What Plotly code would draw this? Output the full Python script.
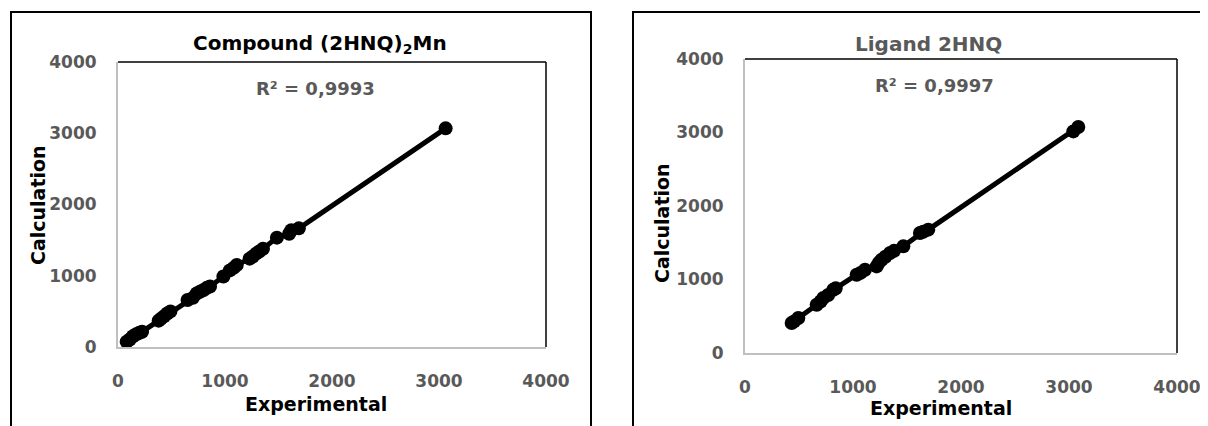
import plotly.graph_objects as go

W, H = 1208, 426
OFF = 8  # page body margin offset compensation

# ---------------- data ----------------
compound_exp = [81, 110, 140, 170, 200, 225, 380, 400, 430, 460, 490,
                650, 700, 735, 770, 800, 830, 860, 985, 1045, 1080, 1110,
                1230, 1260, 1290, 1320, 1355, 1485, 1600, 1620, 1690, 3062]
compound_calc = [74, 105, 150, 180, 200, 215, 370, 395, 430, 470, 500,
                 660, 690, 750, 780, 800, 830, 850, 990, 1075, 1110, 1150,
                 1240, 1270, 1310, 1340, 1380, 1535, 1590, 1640, 1665, 3069]

ligand_exp = [432, 455, 494, 664, 700, 725, 770, 818, 840, 1034, 1070, 1111,
              1219, 1240, 1265, 1300, 1343, 1380, 1466, 1620, 1650, 1697, 3040, 3086]
ligand_calc = [408, 430, 476, 657, 700, 748, 790, 861, 880, 1065, 1090, 1133,
               1178, 1230, 1269, 1310, 1360, 1390, 1451, 1633, 1650, 1678, 3015, 3075]

tick_vals = [0, 1000, 2000, 3000, 4000]
tick_text = ["0", "1000", "2000", "3000", "4000"]

titles = ["Compound (2HNQ)<sub>2</sub>Mn", "Ligand 2HNQ"]
r2_texts = ["R² = 0,9993", "R² = 0,9997"]
x_title = "Experimental"
y_title = "Calculation"

FONT = "DejaVu Sans"
GREY = "#595959"


def px(x):
    return (x - OFF) / W


def py(y):
    return 1 - (y - OFF) / H


fig = go.Figure()

fig.add_trace(go.Scatter(x=compound_exp, y=compound_calc, mode="lines+markers",
                         line=dict(color="black", width=5),
                         marker=dict(color="black", size=14),
                         cliponaxis=False, showlegend=False,
                         xaxis="x", yaxis="y"))
fig.add_trace(go.Scatter(x=ligand_exp, y=ligand_calc, mode="lines+markers",
                         line=dict(color="black", width=5),
                         marker=dict(color="black", size=14),
                         cliponaxis=False, showlegend=False,
                         xaxis="x2", yaxis="y2"))

plots = [
    dict(x0=118, x1=546, y0=62, y1=347),
    dict(x0=745, x1=1177, y0=59, y1=353),
]

axis_common = dict(range=[0, 4000], tickvals=tick_vals, ticktext=tick_text,
                   showgrid=False, zeroline=False, showline=True,
                   linecolor="#bfbfbf", linewidth=2, ticks="",
                   automargin=False,
                   tickfont=dict(family=FONT, size=17, color=GREY, weight="bold"),
                   fixedrange=True)

layout_axes = {}
for i, p in enumerate(plots):
    sfx = "" if i == 0 else str(i + 1)
    layout_axes["xaxis" + sfx] = dict(axis_common,
                                      domain=[px(p["x0"]), px(p["x1"])],
                                      anchor="y" + sfx,
                                      ticklabelstandoff=18)
    layout_axes["yaxis" + sfx] = dict(axis_common,
                                      domain=[py(p["y1"]), py(p["y0"])],
                                      anchor="x" + sfx,
                                      ticklabelstandoff=16)

shapes = []
# outer chart borders
shapes.append(dict(type="rect", xref="paper", yref="paper",
                   x0=px(11), x1=px(591), y0=-0.2, y1=py(12),
                   line=dict(color="black", width=2), layer="below"))
shapes.append(dict(type="rect", xref="paper", yref="paper",
                   x0=px(633), x1=px(1240), y0=-0.2, y1=py(12),
                   line=dict(color="black", width=2), layer="below"))
# plot-area black top & right edges
for i, p in enumerate(plots):
    sfx = "" if i == 0 else str(i + 1)
    shapes.append(dict(type="line", xref="x" + sfx + " domain", yref="y" + sfx + " domain",
                       x0=0, x1=1, y0=1, y1=1, line=dict(color="black", width=1.5)))
    shapes.append(dict(type="line", xref="x" + sfx + " domain", yref="y" + sfx + " domain",
                       x0=1, x1=1, y0=0, y1=1, line=dict(color="black", width=1.5)))

annotations = []
title_pos = [(320, 44, "black"), (928, 44, GREY)]
r2_pos = [(315, 88), (935, 86)]
ytitle_pos = [(38, 205), (662, 223)]
xtitle_pos = [(316, 404), (941, 408)]

for i in range(2):
    tx, ty, tc = title_pos[i]
    annotations.append(dict(text="<b>" + titles[i] + "</b>", x=px(tx), y=py(ty),
                            xref="paper", yref="paper", showarrow=False,
                            xanchor="center", yanchor="middle",
                            font=dict(family=FONT, size=20, color=tc)))
    rx, ry = r2_pos[i]
    annotations.append(dict(text="<b>" + r2_texts[i] + "</b>", x=px(rx), y=py(ry),
                            xref="paper", yref="paper", showarrow=False,
                            xanchor="center", yanchor="middle",
                            font=dict(family=FONT, size=18, color=GREY)))
    cx, cy = ytitle_pos[i]
    annotations.append(dict(text="<b>" + y_title + "</b>", x=px(cx), y=py(cy),
                            xref="paper", yref="paper", showarrow=False,
                            textangle=-90, xanchor="center", yanchor="middle",
                            font=dict(family=FONT, size=19, color="black")))
    ex, ey = xtitle_pos[i]
    annotations.append(dict(text="<b>" + x_title + "</b>", x=px(ex), y=py(ey),
                            xref="paper", yref="paper", showarrow=False,
                            xanchor="center", yanchor="middle",
                            font=dict(family=FONT, size=19, color="black")))

fig.update_layout(width=W, height=H, autosize=False,
                  margin=dict(l=0, r=0, t=0, b=0, autoexpand=False),
                  paper_bgcolor="white", plot_bgcolor="white",
                  shapes=shapes, annotations=annotations,
                  showlegend=False, **layout_axes)

fig.write_html("out.html", config={"displayModeBar": False})
